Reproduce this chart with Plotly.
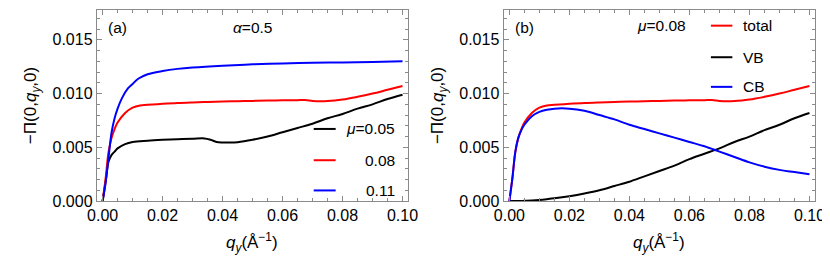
import plotly.graph_objects as go

# ---------------- data ----------------
q_mu005 = [0, 0.001, 0.002, 0.003, 0.004, 0.005, 0.0075, 0.01, 0.015, 0.02, 0.025,
           0.03, 0.034, 0.036, 0.038, 0.04, 0.0425, 0.045, 0.05, 0.055, 0.06, 0.065,
           0.07, 0.075, 0.08, 0.085, 0.09, 0.095, 0.1]
v_mu005 = [0, 0.0018, 0.0037, 0.0043, 0.0046, 0.0049, 0.0053, 0.0055, 0.00562, 0.0057, 0.00576,
           0.0058, 0.00583, 0.0057, 0.0055, 0.00545, 0.00544, 0.00548, 0.0057, 0.0060, 0.0064, 0.0068,
           0.0072, 0.0077, 0.0081, 0.0086, 0.0090, 0.0095, 0.0099]

q_mu008 = [0, 0.001, 0.002, 0.003, 0.004, 0.005, 0.0075, 0.01, 0.0125, 0.015, 0.02, 0.025,
           0.03, 0.035, 0.04, 0.045, 0.05, 0.055, 0.06, 0.065, 0.0675, 0.07, 0.0725, 0.075,
           0.08, 0.085, 0.09, 0.095, 0.1]
v_mu008 = [0, 0.0021, 0.0046, 0.0059, 0.0067, 0.0073, 0.0082, 0.0087, 0.0089, 0.00895, 0.00905, 0.00913,
           0.00918, 0.00922, 0.00926, 0.00929, 0.00932, 0.00935, 0.00937, 0.00939, 0.0094, 0.00932, 0.00928, 0.0093,
           0.00945, 0.0097, 0.0100, 0.01035, 0.0107]

q_mu011 = [0, 0.001, 0.002, 0.003, 0.004, 0.005, 0.0065, 0.0085, 0.01, 0.012, 0.015, 0.02,
           0.025, 0.03, 0.04, 0.05, 0.06, 0.07, 0.08, 0.09, 0.1]
v_mu011 = [0, 0.0017, 0.0041, 0.0064, 0.0077, 0.0086, 0.0096, 0.0105, 0.0109, 0.0114, 0.0118, 0.0121,
           0.0123, 0.01243, 0.0126, 0.01272, 0.0128, 0.01286, 0.0129, 0.01295, 0.0130]

q_band = [0, 0.001, 0.002, 0.003, 0.004, 0.005, 0.0075, 0.01, 0.0125, 0.015, 0.02, 0.025,
          0.03, 0.035, 0.04, 0.045, 0.05, 0.055, 0.06, 0.065, 0.07, 0.075, 0.08, 0.085,
          0.09, 0.095, 0.1]
v_cb = [0, 0.0021, 0.0046, 0.0059, 0.0066, 0.0071, 0.0079, 0.0083, 0.0085, 0.0086, 0.0086, 0.0084,
        0.0080, 0.0076, 0.0071, 0.0067, 0.0063, 0.0059, 0.0055, 0.0051, 0.0046, 0.0041, 0.0036, 0.0032,
        0.0029, 0.0027, 0.0025]
v_vb = [0, 0, 0, 0, 0.00001, 0.00002, 0.00005, 0.0001, 0.00017, 0.00025, 0.00045, 0.0007,
        0.0010, 0.0014, 0.0018, 0.0023, 0.0028, 0.0033, 0.0039, 0.0044, 0.0049, 0.0055, 0.0060, 0.0066,
        0.0071, 0.0077, 0.0082]

x_ticks = [0.0, 0.02, 0.04, 0.06, 0.08, 0.10]
y_ticks = [0.0, 0.005, 0.010, 0.015]

legend_a = ["<i>μ</i>=0.05", "0.08", "0.11"]
legend_b = ["total", "VB", "CB"]

# ---------------- layout helpers ----------------
W, H = 830, 259
def px(x): return x / W
def py(y): return 1 - y / H

FONT = "Liberation Sans, Arial, sans-serif"
FRAME = "#8a8a8a"
SM = 1.0

fig = go.Figure()
line_kw = dict(mode="lines", line_shape="spline", showlegend=False, hoverinfo="skip")
fig.add_trace(go.Scatter(x=q_mu005, y=v_mu005, xaxis="x", yaxis="y", line=dict(color="black", width=2, smoothing=SM), **line_kw))
fig.add_trace(go.Scatter(x=q_mu008, y=v_mu008, xaxis="x", yaxis="y", line=dict(color="#ff0000", width=2, smoothing=SM), **line_kw))
fig.add_trace(go.Scatter(x=q_mu011, y=v_mu011, xaxis="x", yaxis="y", line=dict(color="#0000ff", width=2, smoothing=SM), **line_kw))

fig.add_trace(go.Scatter(x=q_mu008, y=v_mu008, xaxis="x2", yaxis="y2", line=dict(color="#ff0000", width=2, smoothing=SM), **line_kw))
fig.add_trace(go.Scatter(x=q_band, y=v_vb, xaxis="x2", yaxis="y2", line=dict(color="black", width=2, smoothing=SM), **line_kw))
fig.add_trace(go.Scatter(x=q_band, y=v_cb, xaxis="x2", yaxis="y2", line=dict(color="#0000ff", width=2, smoothing=SM), **line_kw))

xr = [-0.00195, 0.10195]
yr = [0, 0.017785]
ydom = [py(200), py(2)]

xaxis_common = dict(range=xr, tickvals=x_ticks, tickformat=".2f", ticks="inside", ticklen=5,
                    tickcolor=FRAME, showline=True, linecolor=FRAME, linewidth=1, mirror="ticks",
                    showgrid=False, zeroline=False, tickfont=dict(family=FONT, size=16, color="black"),
                    minor=dict(dtick=0.005, tick0=0, ticks="inside", ticklen=3, tickcolor=FRAME, showgrid=False))
yaxis_common = dict(range=yr, tickvals=y_ticks, tickformat=".3f", ticks="inside", ticklen=5,
                    tickcolor=FRAME, showline=True, linecolor=FRAME, linewidth=1, mirror="ticks",
                    showgrid=False, zeroline=False, tickfont=dict(family=FONT, size=16, color="black"),
                    minor=dict(dtick=0.001, tick0=0, ticks="inside", ticklen=3, tickcolor=FRAME, showgrid=False))

fig.update_layout(
    width=W, height=H, margin=dict(l=0, r=0, t=0, b=0),
    paper_bgcolor="white", plot_bgcolor="white",
    xaxis=dict(domain=[px(80.7), px(400)], anchor="y", **xaxis_common),
    yaxis=dict(domain=ydom, anchor="x", **yaxis_common),
    xaxis2=dict(domain=[px(497.5), px(817)], anchor="y2", **xaxis_common),
    yaxis2=dict(domain=ydom, anchor="x2", **yaxis_common),
)

ann = []
def text(x, y, s, size=15.5, xanchor="center", angle=0):
    ann.append(dict(x=px(x), y=py(y), xref="paper", yref="paper", text=s, showarrow=False,
                    xanchor=xanchor, yanchor="middle", textangle=angle,
                    font=dict(family=FONT, size=size, color="black")))

# panel labels
text(102, 20, "(a)")
text(240, 20, "<i>α</i>=0.5")
text(519, 20, "(b)")
text(659, 18, "<i>μ</i>=0.08")
# axis titles
xtitle = "<i>q</i><sub><i>y</i></sub>(Å<sup>−1</sup>)"
ytitle = "−Π(0,<i>q</i><sub><i>y</i></sub>,0)"
text(240, 243, xtitle, size=17)
text(657, 243, xtitle, size=17)
text(15, 101, ytitle, size=17, angle=-90)
text(432, 101, ytitle, size=17, angle=-90)

# legends
shapes = []
leg_a_y = [125.3, 157.7, 189]
leg_a_c = ["black", "#ff0000", "#0000ff"]
for lab, yy, c in zip(legend_a, leg_a_y, leg_a_c):
    shapes.append(dict(type="line", xref="paper", yref="paper", x0=px(303), x1=px(325.5),
                       y0=py(yy), y1=py(yy), line=dict(color=c, width=2)))
    text(388, yy, lab, xanchor="right")

leg_b_y = [18.3, 51, 81.7]
leg_b_c = ["#ff0000", "black", "#0000ff"]
for lab, yy, c in zip(legend_b, leg_b_y, leg_b_c):
    shapes.append(dict(type="line", xref="paper", yref="paper", x0=px(710), x1=px(732),
                       y0=py(yy), y1=py(yy), line=dict(color=c, width=2)))
    text(740.5, yy, lab, xanchor="left")

fig.update_layout(annotations=ann, shapes=shapes)
fig.write_html("out.html")
